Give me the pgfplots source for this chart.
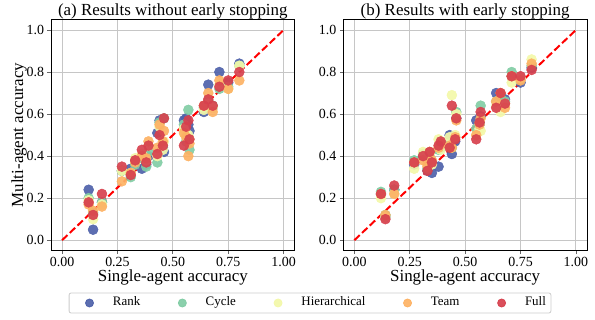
\documentclass[border=0pt]{standalone}
\usepackage{fontspec}
\setmainfont{Liberation Serif}
\usepackage{pgfplots}
\usepackage{pgfplotstable}
\pgfplotsset{compat=1.18}
\definecolor{cR}{HTML}{4F62AA}
\definecolor{cC}{HTML}{82CDA5}
\definecolor{cH}{HTML}{F3F8A9}
\definecolor{cT}{HTML}{FDB264}
\definecolor{cF}{HTML}{D7414E}
\definecolor{gridc}{HTML}{C6C6C6}

\pgfplotstableread{
x R C H T F
0.12 0.24 0.20 0.19 0.17 0.18
0.14 0.05 0.13 0.10 0.14 0.12
0.18 0.18 0.18 0.17 0.16 0.22
0.27 0.33 0.33 0.33 0.28 0.35
0.31 0.34 0.30 0.32 0.32 0.31
0.33 0.38 0.36 0.39 0.37 0.38
0.36 0.34 0.39 0.41 0.40 0.43
0.38 0.36 0.35 0.38 0.39 0.37
0.39 0.40 0.42 0.45 0.47 0.45
0.43 0.51 0.37 0.40 0.44 0.41
0.44 0.57 0.56 0.54 0.55 0.50
0.455 0.44 0.45 0.43 0.47 0.45
0.46 0.42 0.58 0.47 0.52 0.58
0.55 0.57 0.55 0.53 0.51 0.45
0.56 0.58 0.47 0.51 0.49 0.54
0.57 0.55 0.62 0.50 0.40 0.57
0.575 0.52 0.43 0.48 0.46 0.48
0.64 0.61 0.63 0.62 0.64 0.64
0.66 0.74 0.66 0.65 0.70 0.67
0.68 0.63 0.64 0.63 0.61 0.64
0.71 0.80 0.72 0.74 0.76 0.73
0.75 0.75 0.73 0.72 0.72 0.76
0.80 0.84 0.83 0.83 0.76 0.80
}\leftdata

\pgfplotstableread{
x R C H T F
0.12 0.22 0.23 0.20 0.22 0.22
0.14 0.11 0.12 0.11 0.12 0.10
0.18 0.24 0.24 0.22 0.22 0.26
0.27 0.36 0.38 0.34 0.37 0.37
0.31 0.40 0.41 0.42 0.38 0.40
0.33 0.33 0.34 0.36 0.35 0.33
0.34 0.39 0.40 0.41 0.42 0.42
0.35 0.32 0.37 0.36 0.38 0.37
0.38 0.35 0.43 0.48 0.44 0.45
0.39 0.44 0.45 0.43 0.46 0.47
0.43 0.50 0.46 0.49 0.45 0.44
0.44 0.41 0.44 0.69 0.44 0.64
0.46 0.58 0.61 0.60 0.57 0.58
0.455 0.47 0.49 0.50 0.49 0.48
0.55 0.57 0.53 0.50 0.50 0.48
0.57 0.59 0.64 0.52 0.58 0.61
0.565 0.55 0.56 0.53 0.55 0.56
0.64 0.70 0.66 0.64 0.66 0.63
0.66 0.69 0.68 0.61 0.70 0.70
0.68 0.67 0.66 0.65 0.63 0.65
0.71 0.78 0.80 0.75 0.78 0.78
0.75 0.75 0.77 0.77 0.76 0.78
0.80 0.82 0.83 0.86 0.84 0.81
}\rightdata

\pgfplotsset{
  panel/.style={
    scale only axis, width=243.7bp, height=231.2bp,
    xmin=-0.05, xmax=1.05, ymin=-0.05, ymax=1.05,
    xtick={0,0.25,0.5,0.75,1}, ytick={0,0.2,0.4,0.6,0.8,1},
    xticklabel={\pgfmathprintnumber[fixed,fixed zerofill,precision=2]{\tick}},
    yticklabel={\pgfmathprintnumber[fixed,fixed zerofill,precision=1]{\tick}},
    /pgf/number format/assume math mode=true,
    tick label style={font=\fontsize{14}{16}\selectfont},
    label style={font=\fontsize{17}{19}\selectfont},
    title style={font=\fontsize{17}{19}\selectfont, inner sep=0pt, yshift=-5.5bp},
    grid=major, major grid style={gridc, line width=1bp},
    tick align=outside, major tick length=3.5bp,
    tick style={black!60, line width=0.8bp},
    xtick pos=bottom, ytick pos=left,
    axis line style={black, line width=0.8bp},
    xlabel={Single-agent accuracy},
    xlabel style={yshift=4bp},
    ylabel style={yshift=-7bp},
  },
  pt/.style={only marks, mark=*, mark size=5bp, color=#1,
    mark options={draw=none, fill=#1, fill opacity=0.92},
    legend image code/.code={\path (-15bp,0) (23bp,0);
      \fill[#1, fill opacity=0.92] (0bp,0bp) circle[radius=4bp];}},
  diag/.style={red, line width=2bp, dash pattern=on 7.4bp off 3.2bp, forget plot},
}

\begin{document}
\begin{tikzpicture}
\useasboundingbox (-51bp,-69.3bp) rectangle (544bp,250.7bp);
\begin{axis}[panel,
  title={(a) Results without early stopping},
  ylabel={Multi-agent accuracy},
  legend columns=5,
  legend style={at={(1.0628,-0.2262)}, anchor=center,
    draw=black!20, line width=0.8bp, rounded corners=2bp,
    font=\fontsize{13}{15}\selectfont,
    inner xsep=5bp, inner ysep=4bp,
    nodes={inner sep=0pt, text height=9bp, text depth=3bp},
    /tikz/every even column/.append style={column sep=26.7bp}},
]
\addplot[pt=cR] table[x=x, y=R] {\leftdata};
\addlegendentry{Rank}
\addplot[pt=cC] table[x=x, y=C] {\leftdata};
\addlegendentry{Cycle}
\addplot[pt=cH] table[x=x, y=H] {\leftdata};
\addlegendentry{Hierarchical}
\addplot[pt=cT] table[x=x, y=T] {\leftdata};
\addlegendentry{Team}
\addplot[pt=cF] table[x=x, y=F] {\leftdata};
\addlegendentry{Full}
\addplot[diag] coordinates {(0,0) (1,1)};
\end{axis}
\begin{axis}[panel, at={(292.3bp,0)}, anchor=south west,
  title={(b) Results with early stopping},
]
\addplot[pt=cR] table[x=x, y=R] {\rightdata};
\addplot[pt=cC] table[x=x, y=C] {\rightdata};
\addplot[pt=cH] table[x=x, y=H] {\rightdata};
\addplot[pt=cT] table[x=x, y=T] {\rightdata};
\addplot[pt=cF] table[x=x, y=F] {\rightdata};
\addplot[diag] coordinates {(0,0) (1,1)};
\end{axis}
\end{tikzpicture}
\end{document}
